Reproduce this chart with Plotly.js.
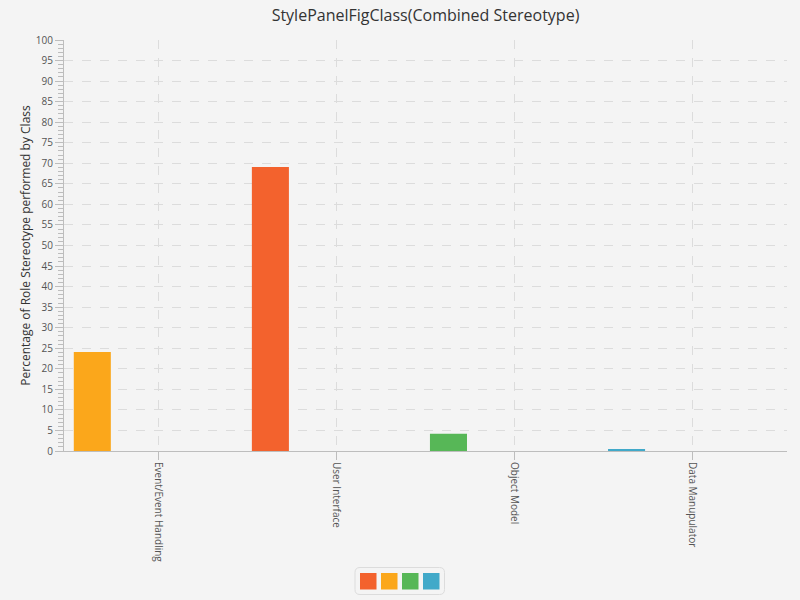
<!DOCTYPE html>
<html>
<head>
<meta charset="utf-8">
<script src="https://cdn.plot.ly/plotly-3.0.1.min.js"></script>
<style>
html,body{margin:0;padding:0;background:#f4f4f4;}
#chart{width:800px;height:600px;}
</style>
</head>
<body>
<div id="chart"></div>
<script>
// Data
const categories = ["Event/Event Handling", "User Interface", "Object Model", "Data Manupulator"];
const seriesNames = ["User Interface", "Event/Event Handling", "Object Model", "Data Manupulator"];
const seriesCategory = ["User Interface", "Event/Event Handling", "Object Model", "Data Manupulator"];
const seriesValues = [69.1, 24.1, 4.2, 0.5];
const colors = ["#f3622d", "#fba71b", "#57b757", "#41a9c9"];

const traces = seriesNames.map((name, i) => ({
  type: "bar",
  name: name,
  x: [seriesCategory[i]],
  y: [seriesValues[i]],
  marker: {color: colors[i], line: {width: 0}},
  offset: -0.473,
  width: 0.208,
  showlegend: false,
  hoverinfo: "x+y"
}));

// plot area pixel geometry
const L = 64, R = 787, T = 40, B = 451;
const pw = R - L, ph = B - T;
const px = v => (v - L) / pw;
const py = v => (B - v) / ph;

const shapes = [];
// legend box
(function () {
  const x0 = 355, x1 = 444.5, y0 = 567.5, y1 = 594.5, r = 5;
  shapes.push({
    type: "path", xref: "paper", yref: "paper",
    path: `M${px(x0 + r)},${py(y0)} L${px(x1 - r)},${py(y0)} Q${px(x1)},${py(y0)} ${px(x1)},${py(y0 + r)} L${px(x1)},${py(y1 - r)} Q${px(x1)},${py(y1)} ${px(x1 - r)},${py(y1)} L${px(x0 + r)},${py(y1)} Q${px(x0)},${py(y1)} ${px(x0)},${py(y1 - r)} L${px(x0)},${py(y0 + r)} Q${px(x0)},${py(y0)} ${px(x0 + r)},${py(y0)} Z`,
    line: {color: "#dcdcdc", width: 1}, fillcolor: "#f4f4f4"
  });
  colors.forEach((c, i) => {
    const sx = 360 + i * 21;
    shapes.push({
      type: "rect", xref: "paper", yref: "paper",
      x0: px(sx), x1: px(sx + 16.5), y0: py(573), y1: py(589.5),
      line: {width: 0}, fillcolor: c
    });
  });
})();

const layout = {
  width: 800, height: 600,
  paper_bgcolor: "#f4f4f4", plot_bgcolor: "#f4f4f4",
  margin: {l: L, r: 800 - R, t: T, b: 600 - B},
  font: {family: "Open Sans, Noto Sans, sans-serif", color: "#555"},
  title: {text: "StylePanelFigClass(Combined Stereotype)", x: 0.5, xref: "paper", y: 1, yref: "container", yanchor: "top", pad: {t: 10},
          font: {size: 16, color: "#333", family: "Open Sans, sans-serif"}},
  barmode: "overlay",
  showlegend: false,
  xaxis: {
    type: "category",
    categoryorder: "array", categoryarray: categories,
    range: [-0.528, 3.532],
    showline: true, linecolor: "#bdbdbd", linewidth: 1,
    ticks: "outside", ticklen: 8, tickcolor: "#bdbdbd",
    tickangle: 90, tickfont: {size: 10, color: "#555"},
    showgrid: true, gridcolor: "#dcdcdc", griddash: "dash", gridwidth: 1,
    zeroline: false, fixedrange: true
  },
  yaxis: {
    range: [0, 100], dtick: 5, tick0: 0,
    showline: true, linecolor: "#bdbdbd", linewidth: 1,
    ticks: "outside", ticklen: 8, tickcolor: "#bdbdbd",
    tickfont: {size: 10, color: "#555"},
    showgrid: true, gridcolor: "#dcdcdc", griddash: "dash", gridwidth: 1,
    minor: {dtick: 1, ticks: "outside", ticklen: 5, tickcolor: "#bdbdbd", showgrid: false},
    zeroline: false,
    title: {text: "Percentage of Role Stereotype performed by Class", standoff: 2,
            font: {size: 12, color: "#333"}}
  },
  shapes: shapes
};

Plotly.newPlot("chart", traces, layout, {displayModeBar: false, staticPlot: true});
</script>
</body>
</html>
